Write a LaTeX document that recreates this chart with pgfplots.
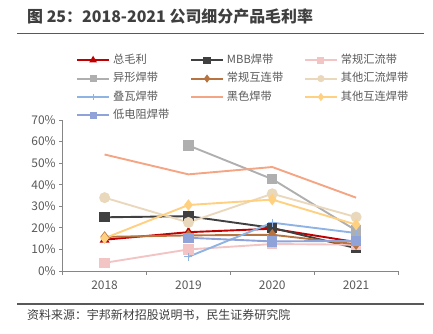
\documentclass[border=0pt]{standalone}
\usepackage{fontspec}
\setmainfont{Noto Sans CJK SC}
\usepackage{pgfplots}
\pgfplotsset{compat=1.18}
\definecolor{cTotal}{HTML}{C00000}
\definecolor{cMBB}{HTML}{404040}
\definecolor{cCGHL}{HTML}{F2C4C4}
\definecolor{cYX}{HTML}{AFAFAF}
\definecolor{cCGHLian}{HTML}{B87440}
\definecolor{cQTHL}{HTML}{E9D8BC}
\definecolor{cDW}{HTML}{8FB4E3}
\definecolor{cHS}{HTML}{F4A584}
\definecolor{cQTHLian}{HTML}{FFD07F}
\definecolor{cDDZ}{HTML}{8FA3D9}
\definecolor{titlegray}{HTML}{3F3F3F}
\definecolor{rulegray}{HTML}{595959}
\definecolor{tickgray}{HTML}{595959}
\definecolor{axisgray}{HTML}{868686}
\begin{document}
\begin{tikzpicture}
\path[use as bounding box] (0bp,0bp) rectangle (433bp,334bp);
\node[anchor=west, font=\fontsize{16}{16}\selectfont\bfseries, text=titlegray, inner sep=0] at (27bp,317bp) {图 25：2018-2021 公司细分产品毛利率};
\draw[rulegray, line width=1.2bp] (17bp,300.5bp) -- (424bp,300.5bp);
\draw[rulegray, line width=1.2bp] (17bp,30bp) -- (424bp,30bp);
\node[anchor=west, font=\fontsize{12}{12}\selectfont, text=titlegray, inner sep=0] at (27bp,19bp) {资料来源：宇邦新材招股说明书，民生证券研究院};
\begin{axis}[
  at={(62.7bp,63bp)}, anchor=south west, scale only axis,
  width=335.3bp, height=151bp,
  xmin=0, xmax=4, ymin=0, ymax=70,
  axis lines*=left,
  axis line style={axisgray, line width=0.9bp},
  xtick={0,1,2,3,4}, xticklabels={2018,2019,2020,2021},
  x tick label as interval=true,
  ytick={0,10,...,70},
  yticklabel={\pgfmathprintnumber{\tick}\%},
  /pgf/number format/assume math mode=true,
  tick align=outside,
  major tick length=3.5bp,
  tick style={axisgray, line width=0.9bp},
  ticklabel style={font=\fontsize{12}{12}\selectfont, text=tickgray},
  xticklabel style={yshift=-3bp},
  every axis plot/.append style={line width=1.9bp},
  legend columns=3,
  legend cell align=left,
  legend style={at={(axis description cs:0.0396,1.437)}, anchor=north west,
    draw=none, fill=none, inner sep=0pt, column sep=3bp, row sep=6.4bp,
    font=\fontsize{11.3}{11.3}\selectfont, text=tickgray,
    nodes={inner sep=0pt, text height=9bp, text depth=3bp}},
  legend image code/.code={\draw[mark repeat=2,mark phase=2,mark size=2.6bp,line width=1.9bp] plot coordinates {(0bp,0bp) (16bp,0bp) (32bp,0bp)};},
]
\addplot[cTotal, mark=triangle*, mark size=3.8bp, mark options={solid,fill=cTotal,draw=cTotal}] coordinates {(0.5,14.5) (1.5,18.0) (2.5,19.6) (3.5,13.4)};
\addlegendentry{\makebox[74bp][l]{总毛利}}
\addplot[cMBB, mark=square*, mark size=4.2bp, mark options={solid,fill=cMBB,draw=cMBB}] coordinates {(0.5,24.9) (1.5,25.4) (2.5,20.0) (3.5,10.6)};
\addlegendentry{\makebox[74bp][l]{MBB焊带}}
\addplot[cCGHL, mark=square*, mark size=4.2bp, mark options={solid,fill=cCGHL,draw=cCGHL}] coordinates {(0.5,3.8) (1.5,10.0) (2.5,12.5) (3.5,12.2)};
\addlegendentry{\makebox[74bp][l]{常规汇流带}}
\addplot[cYX, mark=square*, mark size=4.2bp, mark options={solid,fill=cYX,draw=cYX}] coordinates {(1.5,58.2) (2.5,42.6) (3.5,18.8)};
\addlegendentry{\makebox[74bp][l]{异形焊带}}
\addplot[cCGHLian, mark=diamond*, mark size=4.2bp, mark options={solid,fill=cCGHLian,draw=cCGHLian}] coordinates {(0.5,15.8) (1.5,16.5) (2.5,16.8) (3.5,12.4)};
\addlegendentry{\makebox[74bp][l]{常规互连带}}
\addplot[cQTHL, mark=*, mark size=4.5bp, mark options={solid,fill=cQTHL,draw=cQTHL}] coordinates {(0.5,34.0) (1.5,22.5) (2.5,35.8) (3.5,25.0)};
\addlegendentry{\makebox[74bp][l]{其他汇流焊带}}
\addplot[cDW, mark=+, mark size=4bp, mark options={solid,line width=1bp}] coordinates {(1.5,6.6) (2.5,22.4) (3.5,17.6)};
\addlegendentry{\makebox[74bp][l]{叠瓦焊带}}
\addplot[cHS, no marks] coordinates {(0.5,54.0) (1.5,44.8) (2.5,48.2) (3.5,34.0)};
\addlegendentry{\makebox[74bp][l]{黑色焊带}}
\addplot[cQTHLian, mark=diamond*, mark size=4.2bp, mark options={solid,fill=cQTHLian,draw=cQTHLian}] coordinates {(0.5,15.2) (1.5,30.6) (2.5,33.1) (3.5,21.5)};
\addlegendentry{\makebox[74bp][l]{其他互连焊带}}
\addplot[cDDZ, mark=square*, mark size=4.2bp, mark options={solid,fill=cDDZ,draw=cDDZ}] coordinates {(1.5,15.4) (2.5,13.7) (3.5,14.0)};
\addlegendentry{\makebox[74bp][l]{低电阻焊带}}
\end{axis}
\end{tikzpicture}
\end{document}
